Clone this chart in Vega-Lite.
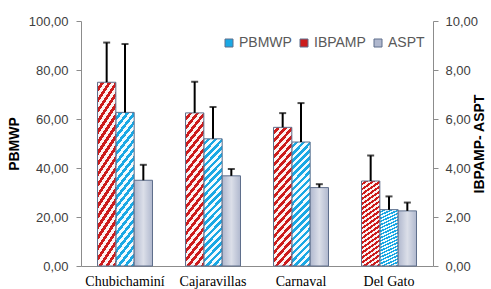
{
  "$schema": "https://vega.github.io/schema/vega-lite/v6.json",
  "width": 352,
  "height": 245,
  "autosize": {"type": "none"},
  "padding": {"left": 81, "top": 21, "right": 58, "bottom": 23},
  "config": {"view": {"stroke": null}},
  "data": {"values": [
    {"site": "Chubichaminí", "series": "IBPAMP", "value": 7.50, "upper": 9.12},
    {"site": "Chubichaminí", "series": "PBMWP", "value": 62.7, "upper": 90.6},
    {"site": "Chubichaminí", "series": "ASPT", "value": 3.50, "upper": 4.13},
    {"site": "Cajaravillas", "series": "IBPAMP", "value": 6.25, "upper": 7.52},
    {"site": "Cajaravillas", "series": "PBMWP", "value": 51.9, "upper": 64.9},
    {"site": "Cajaravillas", "series": "ASPT", "value": 3.68, "upper": 3.96},
    {"site": "Carnaval", "series": "IBPAMP", "value": 5.66, "upper": 6.24},
    {"site": "Carnaval", "series": "PBMWP", "value": 50.6, "upper": 66.5},
    {"site": "Carnaval", "series": "ASPT", "value": 3.20, "upper": 3.34},
    {"site": "Del Gato", "series": "IBPAMP", "value": 3.47, "upper": 4.51},
    {"site": "Del Gato", "series": "PBMWP", "value": 23.0, "upper": 28.4},
    {"site": "Del Gato", "series": "ASPT", "value": 2.25, "upper": 2.59}
  ]},
  "encoding": {
    "x": {
      "field": "site", "type": "nominal",
      "sort": ["Chubichaminí", "Cajaravillas", "Carnaval", "Del Gato"],
      "scale": {"paddingInner": 0.375, "paddingOuter": 0.1875},
      "axis": {"title": null, "labelAngle": 0, "ticks": false, "domainColor": "#8c8c8c", "labelFont": "Liberation Serif", "labelFontSize": 14, "labelColor": "#000000", "labelPadding": 8}
    },
    "xOffset": {
      "field": "series", "type": "nominal",
      "scale": {"domain": ["IBPAMP", "PBMWP", "ASPT"], "paddingInner": 0, "paddingOuter": 0}
    }
  },
  "layer": [
    {
      "transform": [{"filter": "datum.series === 'PBMWP'"}],
      "encoding": {
        "y": {
          "field": "value", "type": "quantitative",
          "scale": {"domain": [0, 100], "nice": false},
          "axis": {"orient": "left", "values": [0, 20, 40, 60, 80, 100], "labelExpr": "replace(format(datum.value, '.2f'), '.', ',')", "title": "PBMWP", "titleFont": "Liberation Sans", "titleFontSize": 14, "titleFontWeight": "bold", "titleColor": "#000000", "titlePadding": 7, "labelFont": "Liberation Sans", "labelFontSize": 13, "labelColor": "#404040", "tickSize": 5, "tickColor": "#8c8c8c", "domainColor": "#8c8c8c", "grid": false, "labelPadding": 8}
        }
      },
      "layer": [
        {
          "mark": {"type": "bar", "strokeWidth": 0},
          "encoding": {
            "fill": {
              "field": "series", "type": "nominal",
              "scale": {"domain": ["PBMWP", "IBPAMP", "ASPT"], "range": ["#1aa8e4", "#cc1c1c", "#b0b8ce"]},
              "legend": {"orient": "none", "legendX": 141, "legendY": 15, "direction": "horizontal", "title": null, "symbolType": "square", "symbolSize": 64, "symbolStrokeColor": "#5f6f8c", "symbolStrokeWidth": 1, "labelFont": "Liberation Sans", "labelFontSize": 14, "labelColor": "#595959", "columnPadding": 5, "labelOffset": 3}
            }
          }
        },
        {
          "mark": {
            "type": "bar", "stroke": "#5f6f8c", "strokeWidth": 1,
            "fill": {"gradient": "linear", "x1": 0, "y1": 0, "x2": 0.169, "y2": 1.125, "stops": [
              {"offset": 0, "color": "rgba(255,255,255,0.95)"}, {"offset": 0.025, "color": "rgba(255,255,255,0.95)"}, {"offset": 0.025, "color": "rgba(255,255,255,0)"}, {"offset": 0.05, "color": "rgba(255,255,255,0)"},
              {"offset": 0.05, "color": "rgba(255,255,255,0.95)"}, {"offset": 0.075, "color": "rgba(255,255,255,0.95)"}, {"offset": 0.075, "color": "rgba(255,255,255,0)"}, {"offset": 0.1, "color": "rgba(255,255,255,0)"},
              {"offset": 0.1, "color": "rgba(255,255,255,0.95)"}, {"offset": 0.125, "color": "rgba(255,255,255,0.95)"}, {"offset": 0.125, "color": "rgba(255,255,255,0)"}, {"offset": 0.15, "color": "rgba(255,255,255,0)"},
              {"offset": 0.15, "color": "rgba(255,255,255,0.95)"}, {"offset": 0.175, "color": "rgba(255,255,255,0.95)"}, {"offset": 0.175, "color": "rgba(255,255,255,0)"}, {"offset": 0.2, "color": "rgba(255,255,255,0)"},
              {"offset": 0.2, "color": "rgba(255,255,255,0.95)"}, {"offset": 0.225, "color": "rgba(255,255,255,0.95)"}, {"offset": 0.225, "color": "rgba(255,255,255,0)"}, {"offset": 0.25, "color": "rgba(255,255,255,0)"},
              {"offset": 0.25, "color": "rgba(255,255,255,0.95)"}, {"offset": 0.275, "color": "rgba(255,255,255,0.95)"}, {"offset": 0.275, "color": "rgba(255,255,255,0)"}, {"offset": 0.3, "color": "rgba(255,255,255,0)"},
              {"offset": 0.3, "color": "rgba(255,255,255,0.95)"}, {"offset": 0.325, "color": "rgba(255,255,255,0.95)"}, {"offset": 0.325, "color": "rgba(255,255,255,0)"}, {"offset": 0.35, "color": "rgba(255,255,255,0)"},
              {"offset": 0.35, "color": "rgba(255,255,255,0.95)"}, {"offset": 0.375, "color": "rgba(255,255,255,0.95)"}, {"offset": 0.375, "color": "rgba(255,255,255,0)"}, {"offset": 0.4, "color": "rgba(255,255,255,0)"},
              {"offset": 0.4, "color": "rgba(255,255,255,0.95)"}, {"offset": 0.425, "color": "rgba(255,255,255,0.95)"}, {"offset": 0.425, "color": "rgba(255,255,255,0)"}, {"offset": 0.45, "color": "rgba(255,255,255,0)"},
              {"offset": 0.45, "color": "rgba(255,255,255,0.95)"}, {"offset": 0.475, "color": "rgba(255,255,255,0.95)"}, {"offset": 0.475, "color": "rgba(255,255,255,0)"}, {"offset": 0.5, "color": "rgba(255,255,255,0)"},
              {"offset": 0.5, "color": "rgba(255,255,255,0.95)"}, {"offset": 0.525, "color": "rgba(255,255,255,0.95)"}, {"offset": 0.525, "color": "rgba(255,255,255,0)"}, {"offset": 0.55, "color": "rgba(255,255,255,0)"},
              {"offset": 0.55, "color": "rgba(255,255,255,0.95)"}, {"offset": 0.575, "color": "rgba(255,255,255,0.95)"}, {"offset": 0.575, "color": "rgba(255,255,255,0)"}, {"offset": 0.6, "color": "rgba(255,255,255,0)"},
              {"offset": 0.6, "color": "rgba(255,255,255,0.95)"}, {"offset": 0.625, "color": "rgba(255,255,255,0.95)"}, {"offset": 0.625, "color": "rgba(255,255,255,0)"}, {"offset": 0.65, "color": "rgba(255,255,255,0)"},
              {"offset": 0.65, "color": "rgba(255,255,255,0.95)"}, {"offset": 0.675, "color": "rgba(255,255,255,0.95)"}, {"offset": 0.675, "color": "rgba(255,255,255,0)"}, {"offset": 0.7, "color": "rgba(255,255,255,0)"},
              {"offset": 0.7, "color": "rgba(255,255,255,0.95)"}, {"offset": 0.725, "color": "rgba(255,255,255,0.95)"}, {"offset": 0.725, "color": "rgba(255,255,255,0)"}, {"offset": 0.75, "color": "rgba(255,255,255,0)"},
              {"offset": 0.75, "color": "rgba(255,255,255,0.95)"}, {"offset": 0.775, "color": "rgba(255,255,255,0.95)"}, {"offset": 0.775, "color": "rgba(255,255,255,0)"}, {"offset": 0.8, "color": "rgba(255,255,255,0)"},
              {"offset": 0.8, "color": "rgba(255,255,255,0.95)"}, {"offset": 0.825, "color": "rgba(255,255,255,0.95)"}, {"offset": 0.825, "color": "rgba(255,255,255,0)"}, {"offset": 0.85, "color": "rgba(255,255,255,0)"},
              {"offset": 0.85, "color": "rgba(255,255,255,0.95)"}, {"offset": 0.875, "color": "rgba(255,255,255,0.95)"}, {"offset": 0.875, "color": "rgba(255,255,255,0)"}, {"offset": 0.9, "color": "rgba(255,255,255,0)"},
              {"offset": 0.9, "color": "rgba(255,255,255,0.95)"}, {"offset": 0.925, "color": "rgba(255,255,255,0.95)"}, {"offset": 0.925, "color": "rgba(255,255,255,0)"}, {"offset": 0.95, "color": "rgba(255,255,255,0)"},
              {"offset": 0.95, "color": "rgba(255,255,255,0.95)"}, {"offset": 0.975, "color": "rgba(255,255,255,0.95)"}, {"offset": 0.975, "color": "rgba(255,255,255,0)"}, {"offset": 1, "color": "rgba(255,255,255,0)"}
            ]}
          }
        },
        {
          "mark": {"type": "rule", "color": "#000000", "strokeWidth": 2},
          "encoding": {"y2": {"field": "upper"}}
        },
        {
          "mark": {"type": "tick", "color": "#000000", "thickness": 2, "size": 7, "orient": "horizontal"},
          "encoding": {"y": {"field": "upper", "type": "quantitative", "scale": {"domain": [0, 100], "nice": false},
            "axis": {"orient": "left", "values": [0, 20, 40, 60, 80, 100], "labelExpr": "replace(format(datum.value, '.2f'), '.', ',')", "title": "PBMWP", "titleFont": "Liberation Sans", "titleFontSize": 14, "titleFontWeight": "bold", "titleColor": "#000000", "titlePadding": 7, "labelFont": "Liberation Sans", "labelFontSize": 13, "labelColor": "#404040", "tickSize": 5, "tickColor": "#8c8c8c", "domainColor": "#8c8c8c", "grid": false, "labelPadding": 8}}}
        }
      ]
    },
    {
      "transform": [{"filter": "datum.series !== 'PBMWP'"}],
      "encoding": {
        "y": {
          "field": "value", "type": "quantitative",
          "scale": {"domain": [0, 10], "nice": false},
          "axis": {"orient": "right", "values": [0, 2, 4, 6, 8, 10], "labelExpr": "replace(format(datum.value, '.2f'), '.', ',')", "title": "IBPAMP- ASPT", "titleAngle": 270, "titleFont": "Liberation Sans", "titleFontSize": 14, "titleFontWeight": "bold", "titleColor": "#000000", "titlePadding": 9, "labelFont": "Liberation Sans", "labelFontSize": 13, "labelColor": "#404040", "tickSize": 5, "tickColor": "#8c8c8c", "domainColor": "#8c8c8c", "grid": false, "labelPadding": 7}
        }
      },
      "layer": [
        {
          "mark": {"type": "bar", "strokeWidth": 0},
          "encoding": {
            "fill": {"field": "series", "type": "nominal", "scale": {"domain": ["PBMWP", "IBPAMP", "ASPT"], "range": ["#1aa8e4", "#cc1c1c", "#b0b8ce"]}}
          }
        },
        {
          "mark": {"type": "bar", "stroke": "#5f6f8c", "strokeWidth": 1},
          "encoding": {
            "fill": {
              "condition": {"test": "datum.series === 'ASPT'", "value": {"gradient": "linear", "x1": 0, "y1": 0, "x2": 1, "y2": 0, "stops": [
                {"offset": 0, "color": "rgba(255,255,255,0)"}, {"offset": 0.5, "color": "rgba(255,255,255,0.55)"}, {"offset": 1, "color": "rgba(255,255,255,0)"}
              ]}},
              "value": {"gradient": "linear", "x1": 0, "y1": 0, "x2": 0.169, "y2": 1.125, "stops": [
                {"offset": 0, "color": "rgba(255,255,255,0.95)"}, {"offset": 0.025, "color": "rgba(255,255,255,0.95)"}, {"offset": 0.025, "color": "rgba(255,255,255,0)"}, {"offset": 0.05, "color": "rgba(255,255,255,0)"},
                {"offset": 0.05, "color": "rgba(255,255,255,0.95)"}, {"offset": 0.075, "color": "rgba(255,255,255,0.95)"}, {"offset": 0.075, "color": "rgba(255,255,255,0)"}, {"offset": 0.1, "color": "rgba(255,255,255,0)"},
                {"offset": 0.1, "color": "rgba(255,255,255,0.95)"}, {"offset": 0.125, "color": "rgba(255,255,255,0.95)"}, {"offset": 0.125, "color": "rgba(255,255,255,0)"}, {"offset": 0.15, "color": "rgba(255,255,255,0)"},
                {"offset": 0.15, "color": "rgba(255,255,255,0.95)"}, {"offset": 0.175, "color": "rgba(255,255,255,0.95)"}, {"offset": 0.175, "color": "rgba(255,255,255,0)"}, {"offset": 0.2, "color": "rgba(255,255,255,0)"},
                {"offset": 0.2, "color": "rgba(255,255,255,0.95)"}, {"offset": 0.225, "color": "rgba(255,255,255,0.95)"}, {"offset": 0.225, "color": "rgba(255,255,255,0)"}, {"offset": 0.25, "color": "rgba(255,255,255,0)"},
                {"offset": 0.25, "color": "rgba(255,255,255,0.95)"}, {"offset": 0.275, "color": "rgba(255,255,255,0.95)"}, {"offset": 0.275, "color": "rgba(255,255,255,0)"}, {"offset": 0.3, "color": "rgba(255,255,255,0)"},
                {"offset": 0.3, "color": "rgba(255,255,255,0.95)"}, {"offset": 0.325, "color": "rgba(255,255,255,0.95)"}, {"offset": 0.325, "color": "rgba(255,255,255,0)"}, {"offset": 0.35, "color": "rgba(255,255,255,0)"},
                {"offset": 0.35, "color": "rgba(255,255,255,0.95)"}, {"offset": 0.375, "color": "rgba(255,255,255,0.95)"}, {"offset": 0.375, "color": "rgba(255,255,255,0)"}, {"offset": 0.4, "color": "rgba(255,255,255,0)"},
                {"offset": 0.4, "color": "rgba(255,255,255,0.95)"}, {"offset": 0.425, "color": "rgba(255,255,255,0.95)"}, {"offset": 0.425, "color": "rgba(255,255,255,0)"}, {"offset": 0.45, "color": "rgba(255,255,255,0)"},
                {"offset": 0.45, "color": "rgba(255,255,255,0.95)"}, {"offset": 0.475, "color": "rgba(255,255,255,0.95)"}, {"offset": 0.475, "color": "rgba(255,255,255,0)"}, {"offset": 0.5, "color": "rgba(255,255,255,0)"},
                {"offset": 0.5, "color": "rgba(255,255,255,0.95)"}, {"offset": 0.525, "color": "rgba(255,255,255,0.95)"}, {"offset": 0.525, "color": "rgba(255,255,255,0)"}, {"offset": 0.55, "color": "rgba(255,255,255,0)"},
                {"offset": 0.55, "color": "rgba(255,255,255,0.95)"}, {"offset": 0.575, "color": "rgba(255,255,255,0.95)"}, {"offset": 0.575, "color": "rgba(255,255,255,0)"}, {"offset": 0.6, "color": "rgba(255,255,255,0)"},
                {"offset": 0.6, "color": "rgba(255,255,255,0.95)"}, {"offset": 0.625, "color": "rgba(255,255,255,0.95)"}, {"offset": 0.625, "color": "rgba(255,255,255,0)"}, {"offset": 0.65, "color": "rgba(255,255,255,0)"},
                {"offset": 0.65, "color": "rgba(255,255,255,0.95)"}, {"offset": 0.675, "color": "rgba(255,255,255,0.95)"}, {"offset": 0.675, "color": "rgba(255,255,255,0)"}, {"offset": 0.7, "color": "rgba(255,255,255,0)"},
                {"offset": 0.7, "color": "rgba(255,255,255,0.95)"}, {"offset": 0.725, "color": "rgba(255,255,255,0.95)"}, {"offset": 0.725, "color": "rgba(255,255,255,0)"}, {"offset": 0.75, "color": "rgba(255,255,255,0)"},
                {"offset": 0.75, "color": "rgba(255,255,255,0.95)"}, {"offset": 0.775, "color": "rgba(255,255,255,0.95)"}, {"offset": 0.775, "color": "rgba(255,255,255,0)"}, {"offset": 0.8, "color": "rgba(255,255,255,0)"},
                {"offset": 0.8, "color": "rgba(255,255,255,0.95)"}, {"offset": 0.825, "color": "rgba(255,255,255,0.95)"}, {"offset": 0.825, "color": "rgba(255,255,255,0)"}, {"offset": 0.85, "color": "rgba(255,255,255,0)"},
                {"offset": 0.85, "color": "rgba(255,255,255,0.95)"}, {"offset": 0.875, "color": "rgba(255,255,255,0.95)"}, {"offset": 0.875, "color": "rgba(255,255,255,0)"}, {"offset": 0.9, "color": "rgba(255,255,255,0)"},
                {"offset": 0.9, "color": "rgba(255,255,255,0.95)"}, {"offset": 0.925, "color": "rgba(255,255,255,0.95)"}, {"offset": 0.925, "color": "rgba(255,255,255,0)"}, {"offset": 0.95, "color": "rgba(255,255,255,0)"},
                {"offset": 0.95, "color": "rgba(255,255,255,0.95)"}, {"offset": 0.975, "color": "rgba(255,255,255,0.95)"}, {"offset": 0.975, "color": "rgba(255,255,255,0)"}, {"offset": 1, "color": "rgba(255,255,255,0)"}
              ]}
            }
          }
        },
        {
          "mark": {"type": "rule", "color": "#000000", "strokeWidth": 2},
          "encoding": {"y2": {"field": "upper"}}
        },
        {
          "mark": {"type": "tick", "color": "#000000", "thickness": 2, "size": 7, "orient": "horizontal"},
          "encoding": {"y": {"field": "upper", "type": "quantitative", "scale": {"domain": [0, 10], "nice": false},
            "axis": {"orient": "right", "values": [0, 2, 4, 6, 8, 10], "labelExpr": "replace(format(datum.value, '.2f'), '.', ',')", "title": "IBPAMP- ASPT", "titleAngle": 270, "titleFont": "Liberation Sans", "titleFontSize": 14, "titleFontWeight": "bold", "titleColor": "#000000", "titlePadding": 9, "labelFont": "Liberation Sans", "labelFontSize": 13, "labelColor": "#404040", "tickSize": 5, "tickColor": "#8c8c8c", "domainColor": "#8c8c8c", "grid": false, "labelPadding": 7}}}
        }
      ]
    }
  ],
  "resolve": {"scale": {"y": "independent"}}
}
